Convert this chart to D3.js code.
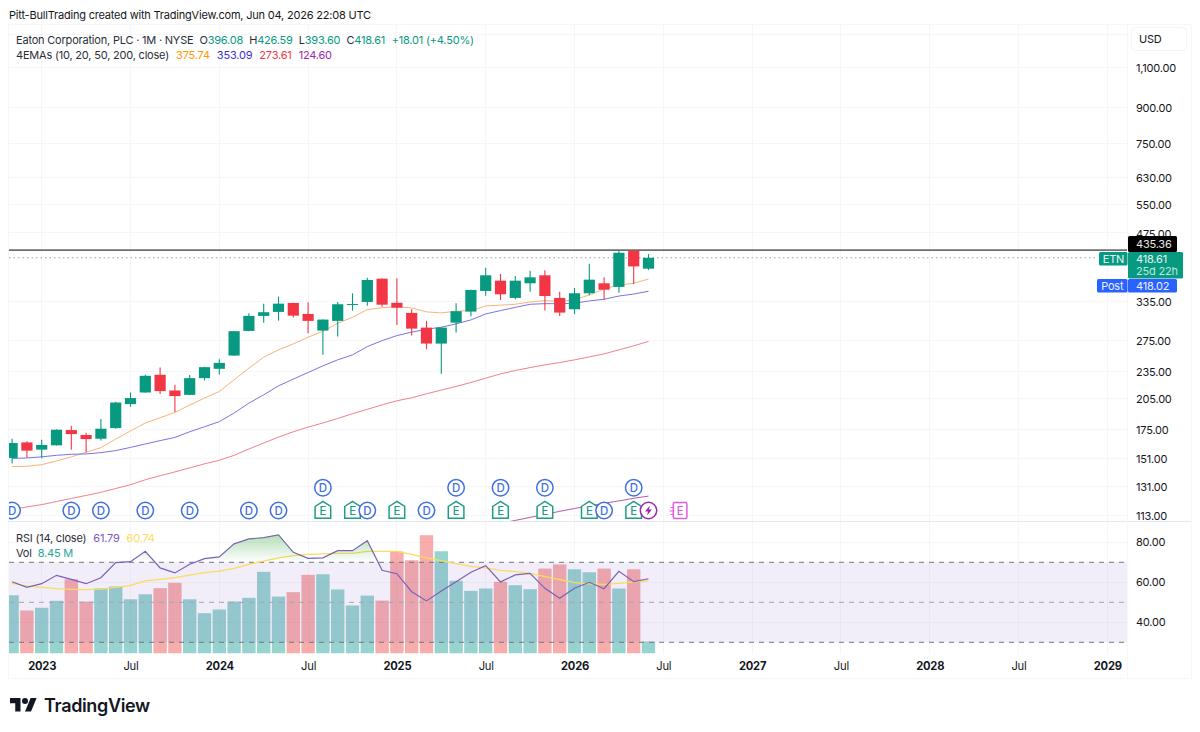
<!DOCTYPE html>
<html>
<head>
<meta charset="utf-8">
<style>
  html, body { margin: 0; padding: 0; background: #fff; }
  svg { display: block; font-family: Inter, "Noto Sans", sans-serif; letter-spacing: -0.2px; }
  .axis path, .axis line { display: none; }
  .axis text { fill: #131722; font-family: Inter, "Noto Sans", sans-serif; }
</style>
<script src="https://cdn.jsdelivr.net/npm/d3@7"></script>
</head>
<body>
<svg id="chart" width="1200" height="732"></svg>
<script>
// Monthly sessions run from Nov 2022 (index 0) to Jun 2026 (index 43).
const opens = [151.3,163.7,157.8,161.3,174.3,170,166.8,176.1,198.9,211,230.9,213.2,208.5,227,238,254.6,288.6,311.5,317.9,332.7,314.6,289.1,303.7,330.2,334.4,376.4,333,316.3,293.5,270.6,301,318.4,353.6,372.6,341.3,367.7,382.9,341.3,322.2,349.5,367.7,361,433.9,396.08];
const highs = [166.8,164.6,166,175,178.2,172,184.4,201.2,211,230.9,239.5,219.5,230.5,240.4,250,288.2,315.8,331.5,343.5,333,333.9,306.3,334.4,349.5,378.3,377.2,377.2,322.2,303.7,294.1,332.2,355.9,397.9,385.5,381.6,392,392.8,352.4,359,406,379,435,435.36,426.59];
const lows = [147,151.7,151,161.1,157.8,155.7,165.2,175.5,196.2,210.7,209.3,191,208,224.3,231.2,254,288.2,301,304.1,308.8,285.3,255.5,280.4,320,328.1,326.5,297.5,281.8,263,232,286.2,311,345.2,337.8,339,352.4,320,311.5,314.6,346,338.3,350.6,366.4,393.6];
const closes = [163.2,157,161.6,174.6,170.8,166.5,175.5,200.5,205.1,229.7,212.5,207.2,227,240,245.3,288.2,311.5,317.4,331.5,311.9,303.7,305.7,330.5,331,373.9,329.8,324.8,292,270.6,293.5,319,355.4,382.9,347.7,372.6,379,344.6,316.8,349.5,374.5,355.9,429.4,400.6,418.61];

const ema10 = [144.8,145,146.2,149,152.1,155.7,159.4,166.5,173.5,180.7,185.6,190.7,197.9,205.1,212.1,225.1,238.8,252.6,262.1,270.2,279.5,288.2,300,309.4,321.6,324.8,326.1,324.4,317.9,316.3,319,320,327.7,329,330.5,334.4,336.6,335.6,337.8,346.6,357.2,364.5,367.7,375.74];
const ema20 = [150.8,151.3,152.1,153.3,154.1,154.4,155.4,157,159.6,162.4,165.2,167.9,172.8,177.3,181.9,190.1,199.9,208.5,218.3,225.9,233.6,241.6,249.1,255.5,266.5,274.7,281.8,286.8,291.1,294.1,299.1,305.2,314.6,320,325.3,330.5,331.5,331.5,332.2,336.1,339,344.6,348.1,353.09];
const ema50 = [116.3,117.9,119.3,121.2,123.1,125,127,129.5,132,135.4,138.2,140.9,143.8,146.8,149.5,153.3,158.3,163.2,168.2,172.8,177,180.7,184.9,189.4,193.7,198.2,202.3,205.4,209.6,213.6,217.6,222,227,231.9,236,239.5,242.9,245.7,249.1,252.9,256.8,262.1,267.5,273.61];
// The 200-period average only enters the price pane near the end of the series.
const ema200Start = 33;
const ema200 = [108.5,110.1,111.8,113.5,115.3,117,118.5,120.1,121.6,123.2,124.6];

const rsi = [60.3,57.5,59.3,63.5,61.5,59.3,62.3,69.8,70.3,75.5,67.2,64.7,69,71.8,72.7,79.2,81.7,82.3,83.7,75,72,72.2,75.8,75.8,80.8,66,64.3,55.3,50.7,55.7,60.3,65,68.3,60.2,63.7,64.5,57,52,57,60,56.8,65.5,60.3,61.79];
const rsiMa = [59.5,58.2,57.5,56.8,56.5,56.3,56.6,57.5,58.5,60.7,61.5,62.3,63.6,64.8,65.6,67,69,70.6,72.2,73.3,74,74.2,74.5,74.5,75.5,75.5,75.5,74,72.2,70.8,69.3,68,67.2,66,65.3,64.5,62.8,61.3,59.8,59.2,59,59.5,60.2,60.74];
const volumes = [41,30.3,32.2,37.1,52.3,36.6,45.8,47.2,38.2,41.7,46,49.8,38.2,28.4,31,36.6,39.2,57.5,40.1,43.2,55.4,55.8,45.1,33.8,40.8,37.3,71.8,65.7,83.3,72,51.2,44.1,45.8,50.5,48.1,45.3,59.8,62.7,59.3,57.2,59.8,45.8,59.3,8.45];

const priceTicks = [113,131,151,175,205,235,275,335,475,550,630,750,900,1100];
const priceGridExtra = [1300];
const rsiTicks = [40,60,80];
const rsiBands = [30,50,70];
const timeTicks = [
  {i:2,label:"2023",major:true},{i:8,label:"Jul"},{i:14,label:"2024",major:true},{i:20,label:"Jul"},
  {i:26,label:"2025",major:true},{i:32,label:"Jul"},{i:38,label:"2026",major:true},{i:44,label:"Jul"},
  {i:50,label:"2027",major:true},{i:56,label:"Jul"},{i:62,label:"2028",major:true},{i:68,label:"Jul"},
  {i:74,label:"2029",major:true}
];

// Event markers, keyed by session index.
const dividendsLow = [0,4,6,9,12,16,18,24,28,40];
const dividendsHigh = [21,30,33,36,42];
const earnings = [21,23,26,30,33,36,39,42];
const futureEarnings = [45];
const newsFlash = [43];

const UP = "#089981", DOWN = "#f23645";
const left = 9, right = 1127, axisLabelX = 1136;
const frameTop = 24, frameRight = 1191, paneBottom = 521, lowerBottom = 653.5, frameBottom = 678;

const svg = d3.select("#chart");
const x = d3.scaleLinear().domain([0, 45]).range([12.1, 678.1]);
const y = d3.scaleLog().domain([113, 1100]).range([515.3, 67.8]);
const yRsi = d3.scaleLinear().domain([30, 80]).range([642.3, 542.3]);
const yVol = d3.scaleLinear().domain([0, 83.3]).range([lowerBottom, 535.2]);

const defs = svg.append("defs");
defs.append("clipPath").attr("id", "priceClip").append("rect")
  .attr("x", left).attr("y", frameTop).attr("width", right - left).attr("height", paneBottom - frameTop);
defs.append("clipPath").attr("id", "lowerClip").append("rect")
  .attr("x", left).attr("y", paneBottom).attr("width", right - left).attr("height", lowerBottom - paneBottom);
defs.append("clipPath").attr("id", "rsiHighClip").append("rect")
  .attr("x", left).attr("y", paneBottom).attr("width", right - left).attr("height", yRsi(70) - paneBottom);
const grad = defs.append("linearGradient").attr("id", "rsiHighFill")
  .attr("gradientUnits", "userSpaceOnUse").attr("x1", 0).attr("x2", 0).attr("y1", yRsi(84)).attr("y2", yRsi(70));
grad.append("stop").attr("offset", 0).attr("stop-color", "#4caf50").attr("stop-opacity", 0.42);
grad.append("stop").attr("offset", 1).attr("stop-color", "#4caf50").attr("stop-opacity", 0);

// Grid and pane frame
const grid = svg.append("g").attr("stroke", "#f5f6f8").attr("stroke-width", 1).attr("shape-rendering", "crispEdges");
grid.selectAll("line.v").data(timeTicks).join("line").attr("class", "v")
  .attr("x1", d => x(d.i)).attr("x2", d => x(d.i)).attr("y1", frameTop).attr("y2", lowerBottom);
grid.selectAll("line.h").data(priceTicks.concat(priceGridExtra)).join("line").attr("class", "h")
  .attr("x1", left).attr("x2", right).attr("y1", d => y(d)).attr("y2", d => y(d));
grid.selectAll("line.r").data(rsiTicks).join("line").attr("class", "r")
  .attr("x1", left).attr("x2", right).attr("y1", d => yRsi(d)).attr("y2", d => yRsi(d));

const frame = svg.append("g").attr("fill", "none").attr("shape-rendering", "crispEdges");
frame.append("path").attr("stroke", "#f6f7f9")
  .attr("d", `M${left - 1},${frameTop}H${frameRight}V${frameBottom}H${left - 1}Z`);
frame.append("path").attr("stroke", "#e6e8ec").attr("d", `M${left - 1},${paneBottom}H${frameRight}`);
frame.append("path").attr("stroke", "#f6f7f9").attr("d", `M${right},${frameTop}V${frameBottom}`);

// Lower pane: volume columns under the RSI band
const lower = svg.append("g").attr("clip-path", "url(#lowerClip)");
lower.selectAll("rect.vol").data(volumes).join("rect").attr("class", "vol")
  .attr("x", (d, i) => x(i) - 6.7).attr("width", 13.4)
  .attr("y", d => yVol(d)).attr("height", d => yVol(0) - yVol(d))
  .attr("fill", (d, i) => closes[i] >= opens[i] ? "#26a69a" : "#ef5350")
  .attr("fill-opacity", 0.48);
lower.append("rect").attr("x", left).attr("width", right - left)
  .attr("y", yRsi(70)).attr("height", yRsi(30) - yRsi(70))
  .attr("fill", "#7e57c2").attr("fill-opacity", 0.1);
lower.selectAll("line.band").data(rsiBands).join("line").attr("class", "band")
  .attr("x1", left).attr("x2", right).attr("y1", d => yRsi(d)).attr("y2", d => yRsi(d))
  .attr("stroke", d => d === 50 ? "#a3a3ad" : "#76767f").attr("stroke-width", 1).attr("stroke-dasharray", "5 5");

const rsiPath = d3.line().x((d, i) => x(i)).y(d => yRsi(d));
const rsiArea = d3.area().x((d, i) => x(i)).y0(yRsi(70)).y1(d => yRsi(d));
svg.append("g").attr("clip-path", "url(#rsiHighClip)").append("path").datum(rsi)
  .attr("d", rsiArea).attr("fill", "url(#rsiHighFill)");
lower.append("path").datum(rsiMa).attr("d", rsiPath).attr("fill", "none").attr("stroke", "#fbdc5c").attr("stroke-width", 1.3);
lower.append("path").datum(rsi).attr("d", rsiPath).attr("fill", "none").attr("stroke", "#7b5fb8").attr("stroke-width", 1.2);

// Price pane
const price = svg.append("g").attr("clip-path", "url(#priceClip)");
const emaLine = d3.line().x((d, i) => x(i)).y(d => y(d));
const emaLineTail = d3.line().x((d, i) => x(i + ema200Start)).y(d => y(d));
price.append("path").datum(ema10).attr("d", emaLine).attr("fill", "none").attr("stroke", "#f8b477").attr("stroke-width", 1);
price.append("path").datum(ema20).attr("d", emaLine).attr("fill", "none").attr("stroke", "#7c73e2").attr("stroke-width", 1);
price.append("path").datum(ema50).attr("d", emaLine).attr("fill", "none").attr("stroke", "#f47f8a").attr("stroke-width", 1);
price.append("path").datum(ema200).attr("d", emaLineTail).attr("fill", "none").attr("stroke", "#b55aa6").attr("stroke-width", 1);

price.append("line").attr("x1", left).attr("x2", right).attr("y1", y(435.36)).attr("y2", y(435.36))
  .attr("stroke", "#6e6e73").attr("stroke-width", 1.8);
price.append("line").attr("x1", left).attr("x2", 1098).attr("y1", y(418.61)).attr("y2", y(418.61))
  .attr("stroke", "#9a9ea8").attr("stroke-width", 1).attr("stroke-dasharray", "1.5 3");

const candles = price.selectAll("g.candle").data(opens).join("g").attr("class", "candle")
  .attr("fill", (d, i) => closes[i] >= d ? UP : DOWN)
  .attr("stroke", (d, i) => closes[i] >= d ? UP : DOWN);
candles.append("line").attr("x1", (d, i) => x(i)).attr("x2", (d, i) => x(i))
  .attr("y1", (d, i) => y(highs[i])).attr("y2", (d, i) => y(lows[i])).attr("stroke-width", 1.1);
candles.append("rect").attr("stroke", "none").attr("x", (d, i) => x(i) - 5.6).attr("width", 11.2)
  .attr("y", (d, i) => y(Math.max(d, closes[i])))
  .attr("height", (d, i) => Math.max(1, Math.abs(y(d) - y(closes[i]))));

// Event markers along the bottom of the price pane
const markerLow = 510.5, markerHigh = 487.7;
const markers = price.append("g").attr("font-size", 11.5).attr("font-weight", 500).attr("text-anchor", "middle");
const placeEarnings = (sel, color) => {
  sel.append("path").attr("d", "M-7.8,-4L0,-9.2L7.8,-4V7.8H-7.8Z").attr("fill", "#fff").attr("stroke", color).attr("stroke-width", 1.5);
  sel.append("text").attr("y", 4.5).attr("fill", color).text("E");
};
const placeDividend = (sel) => {
  sel.append("circle").attr("r", 8.2).attr("fill", "#fff").attr("stroke", "#3f6fe0").attr("stroke-width", 1.5);
  sel.append("text").attr("y", 4.2).attr("fill", "#3f6fe0").text("D");
};
markers.selectAll("g.e").data(earnings).join("g").attr("class", "e")
  .attr("transform", d => `translate(${x(d)},${markerLow})`).call(placeEarnings, "#1f9d84");
markers.selectAll("g.dl").data(dividendsLow).join("g").attr("class", "dl")
  .attr("transform", d => `translate(${x(d)},${markerLow})`).call(placeDividend);
markers.selectAll("g.dh").data(dividendsHigh).join("g").attr("class", "dh")
  .attr("transform", d => `translate(${x(d)},${markerHigh})`).call(placeDividend);
const flash = markers.selectAll("g.n").data(newsFlash).join("g").attr("class", "n")
  .attr("transform", d => `translate(${x(d)},${markerLow})`);
flash.append("circle").attr("r", 8.2).attr("fill", "#fff").attr("stroke", "#9c27b0").attr("stroke-width", 1.5);
flash.append("path").attr("d", "M1.5,-5L-3.5,1H-0.5L-1.5,5L3.5,-1H0.5Z").attr("fill", "#9c27b0");
const soon = markers.selectAll("g.f").data(futureEarnings).join("g").attr("class", "f")
  .attr("transform", d => `translate(${x(d)},${markerLow})`);
soon.append("rect").attr("x", -4.8).attr("y", -8).attr("width", 13.6).attr("height", 16).attr("rx", 1.5)
  .attr("fill", "#fff").attr("stroke", "#e35be0").attr("stroke-width", 1.5);
soon.append("path").attr("d", "M-7.5,-3H-4.5M-8.5,0.5H-4.5M-7.5,4H-4.5").attr("stroke", "#e35be0").attr("stroke-width", 1.2);
soon.append("text").attr("x", 2).attr("y", 4.5).attr("fill", "#e35be0").text("E");

// Axes
svg.append("g").attr("class", "axis").attr("transform", `translate(${axisLabelX},0.6)`)
  .call(d3.axisRight(y).tickValues(priceTicks).tickSize(0).tickPadding(0).tickFormat(d3.format(",.2f")))
  .selectAll("text").attr("font-size", 11);
svg.append("g").attr("class", "axis").attr("transform", `translate(${axisLabelX},0)`)
  .call(d3.axisRight(yRsi).tickValues(rsiTicks).tickSize(0).tickPadding(0).tickFormat(d3.format(".2f")))
  .selectAll("text").attr("font-size", 11);

const timeScale = d3.scalePoint().domain(timeTicks.map(d => d.i)).range([x(2), x(74)]);
const timeAxis = svg.append("g").attr("class", "axis").attr("transform", `translate(0,${lowerBottom + 8.5})`)
  .call(d3.axisBottom(timeScale).tickSize(0).tickPadding(0).tickFormat(i => timeTicks.find(t => t.i === i).label));
timeAxis.selectAll("text").attr("font-size", 11.2).attr("dy", "0.71em")
  .attr("font-weight", i => timeTicks.find(t => t.i === i).major ? 700 : 400)
  .attr("fill", i => timeTicks.find(t => t.i === i).major ? "#131722" : "#2e3138");

// Price tags at the right edge
const tag = (xa, ya, w, h, fill, r) => svg.append("rect").attr("x", xa).attr("y", ya).attr("width", w).attr("height", h).attr("fill", fill).attr("rx", r);
const label = (xa, ya, s, fill, anchor = "start", size = 11) => svg.append("text").attr("x", xa).attr("y", ya)
  .attr("fill", fill).attr("font-size", size).attr("text-anchor", anchor).text(s);
tag(1128, 236, 49, 16, "#000", 1.5);
label(axisLabelX, 248, "435.36", "#e8e8e8");
tag(1099, 252, 28.5, 13.5, UP, 1.5);
label(1113.5, 262.5, "ETN", "#e6f6f2", "middle");
tag(1128, 252, 55, 26.5, UP, 1.5);
label(axisLabelX, 262.5, "418.61", "#e6f6f2");
label(axisLabelX, 275, "25d 22h", "#bfe6dc");
tag(1097, 279, 30.5, 13.5, "#2962ff", 1.5);
label(1112.3, 289.7, "Post", "#eaf0ff", "middle");
tag(1128, 279, 49, 13.5, "#2962ff", 1.5);
label(axisLabelX, 289.7, "418.02", "#eaf0ff");

svg.append("rect").attr("x", 1131.5).attr("y", 27.5).attr("width", 55).attr("height", 23).attr("rx", 4)
  .attr("fill", "#fff").attr("stroke", "#f3f4f6");
label(1139, 42.5, "USD", "#131722");

// Header and legends
label(9, 19, "Pitt-BullTrading created with TradingView.com, Jun 04, 2026 22:08 UTC", "#131722");

const legend = (xa, ya, parts) => {
  const t = svg.append("text").attr("x", xa).attr("y", ya).attr("font-size", 11);
  parts.forEach(([s, c, gap]) => t.append("tspan").attr("dx", gap || 0).attr("fill", c).text(s));
};
const dark = "#2a2e39";
legend(16, 44, [["Eaton Corporation, PLC · 1M · NYSE", dark], ["O", dark, 6], ["396.08", UP], ["H", dark, 6], ["426.59", UP], ["L", dark, 6], ["393.60", UP], ["C", dark, 6], ["418.61", UP], ["+18.01 (+4.50%)", UP, 6.5]]);
legend(16, 59, [["4EMAs (10, 20, 50, 200, close)", dark], ["375.74", "#ff9800", 7], ["353.09", "#3b2fd9", 7], ["273.61", "#f23645", 7], ["124.60", "#9c27b0", 7]]);
legend(16, 542, [["RSI (14, close)", dark], ["61.79", "#7e57c2", 7], ["60.74", "#fbdc5c", 7]]);
legend(16, 557, [["Vol", dark], ["8.45 M", "#26a69a", 6]]);

// Wordmark
const mark = svg.append("g").attr("transform", "translate(10,695) scale(0.75)").attr("fill", "#131722");
mark.append("path").attr("d", "M14 22H7V11H0V4h14v18zM28 22h-8l7.5-18h8L28 22z");
mark.append("circle").attr("cx", 20).attr("cy", 8).attr("r", 4);
svg.append("text").attr("x", 44).attr("y", 712).attr("font-size", 18).attr("font-weight", 600)
  .attr("letter-spacing", -0.35).attr("fill", "#131722").text("TradingView");
</script>
</body>
</html>
